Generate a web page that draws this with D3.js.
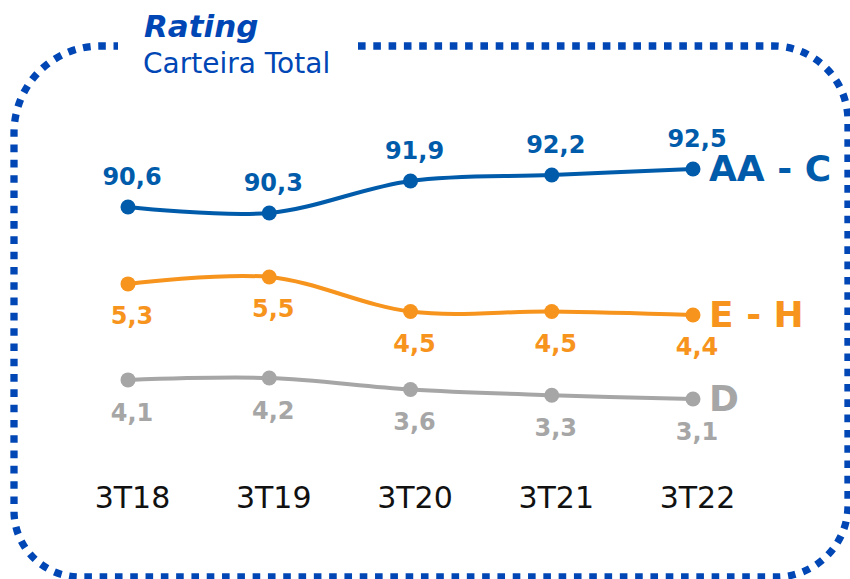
<!DOCTYPE html>
<html>
<head>
<meta charset="utf-8">
<script src="https://cdn.jsdelivr.net/npm/d3@7"></script>
<style>
  body { margin: 0; background: #fff; }
  svg { display: block; font-family: "DejaVu Sans", Verdana, sans-serif; }
</style>
</head>
<body>
<script>
var categories = ["3T18", "3T19", "3T20", "3T21", "3T22"];
var aaC = [90.6, 90.3, 91.9, 92.2, 92.5];
var eH = [5.3, 5.5, 4.5, 4.5, 4.4];
var dRisk = [4.1, 4.2, 3.6, 3.3, 3.1];

var width = 850, height = 579;

var svg = d3.select("body").append("svg")
    .attr("width", width)
    .attr("height", height);

// dotted rounded frame, open at the top where the title sits
svg.append("path")
    .attr("d", "M358,46 H773 A75,75 0 0 1 848,121 V505 A72,72 0 0 1 776,577 H80 A66,66 0 0 1 14,511 V133 A86,87 0 0 1 100,46 H118")
    .attr("fill", "none")
    .attr("stroke", "#0047b5")
    .attr("stroke-width", 7.3)
    .attr("stroke-dasharray", "7.6 7.7");

svg.append("text")
    .attr("x", 144).attr("y", 37)
    .attr("fill", "#0047b5")
    .attr("font-size", 31)
    .attr("font-weight", "bold")
    .attr("font-style", "italic")
    .text("Rating");

svg.append("text")
    .attr("x", 143).attr("y", 73)
    .attr("fill", "#0047b5")
    .attr("font-size", 28)
    .text("Carteira Total");

var x = d3.scalePoint().domain(categories).range([128, 693]);

var series = [
    { name: "AA - C", values: aaC, color: "#005baa", y: d3.scaleLinear().domain([90.3, 92.5]).range([213, 169]), dy: -22 },
    { name: "E - H", values: eH, color: "#f7941d", y: d3.scaleLinear().domain([4.4, 5.5]).range([315, 277]), dy: 40 },
    { name: "D", values: dRisk, color: "#a6a6a6", y: d3.scaleLinear().domain([3.1, 4.2]).range([399, 378]), dy: 41 }
];

var fmt = function (v) { return d3.format(".1f")(v).replace(".", ","); };

series.forEach(function (s) {
    var pts = s.values.map(function (v, i) { return { cat: categories[i], v: v }; });
    var line = d3.line()
        .x(function (d) { return x(d.cat); })
        .y(function (d) { return s.y(d.v); })
        .curve(d3.curveCatmullRom.alpha(0.5));

    var g = svg.append("g");

    g.append("path")
        .datum(pts)
        .attr("d", line)
        .attr("fill", "none")
        .attr("stroke", s.color)
        .attr("stroke-width", 4);

    g.selectAll("circle")
        .data(pts)
        .enter().append("circle")
        .attr("cx", function (d) { return x(d.cat); })
        .attr("cy", function (d) { return s.y(d.v); })
        .attr("r", 7.5)
        .attr("fill", s.color);

    g.selectAll("text.val")
        .data(pts)
        .enter().append("text")
        .attr("class", "val")
        .attr("x", function (d) { return x(d.cat) + 4; })
        .attr("y", function (d) { return s.y(d.v) + s.dy; })
        .attr("text-anchor", "middle")
        .attr("font-size", 24)
        .attr("font-weight", "bold")
        .attr("fill", s.color)
        .text(function (d) { return fmt(d.v); });

    var last = pts[pts.length - 1];
    g.append("text")
        .attr("x", x(last.cat) + 16)
        .attr("y", s.y(last.v) + 12)
        .attr("font-size", 36)
        .attr("font-weight", "bold")
        .attr("fill", s.color)
        .text(s.name);
});

var axis = svg.append("g")
    .attr("transform", "translate(0,508)")
    .call(d3.axisBottom(x).tickSize(0));

axis.select(".domain").remove();
axis.selectAll("text")
    .attr("y", 0)
    .attr("dy", 0)
    .attr("dx", 4)
    .attr("font-size", 30)
    .attr("font-family", "'DejaVu Sans', Verdana, sans-serif")
    .attr("fill", "#111");
</script>
</body>
</html>
